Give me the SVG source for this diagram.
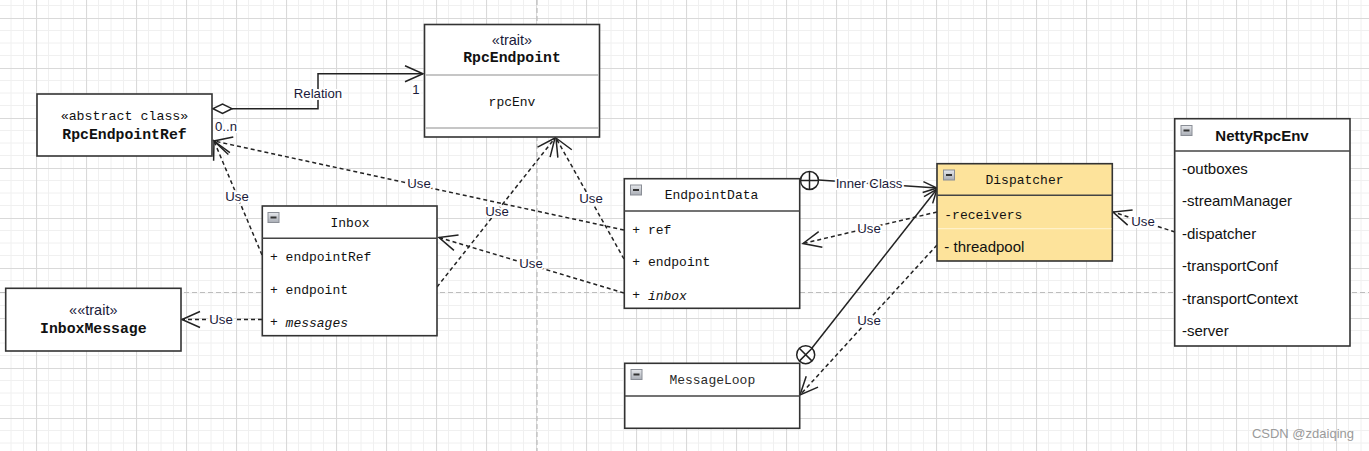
<svg xmlns="http://www.w3.org/2000/svg" width="1369" height="451" viewBox="0 0 1369 451">
<style>
.box{fill:#fff;stroke:#333;stroke-width:1.6}
.sep{stroke:#444;stroke-width:1.5}
.sepl{stroke:#b4b4b4;stroke-width:1.6}
.mono{font-family:"Liberation Mono","DejaVu Sans Mono",monospace;font-size:13px;fill:#111}
.monob{font-family:"Liberation Mono","DejaVu Sans Mono",monospace;font-size:14.8px;font-weight:bold;fill:#111}
.sans{font-family:"Liberation Sans",Arial,sans-serif;font-size:15px;fill:#111}
.stereo{font-family:"Liberation Sans",Arial,sans-serif;font-size:14.5px;fill:#1a1a3a}
.lbl{font-family:"Liberation Sans",Arial,sans-serif;font-size:13.2px;fill:#1a1a3a;paint-order:stroke;stroke:#fff;stroke-width:4px;stroke-linejoin:round}
.dash{fill:none;stroke:#222;stroke-width:1.5;stroke-dasharray:4 3}
.solid{fill:none;stroke:#222;stroke-width:1.5}
.guide{stroke:#bdbdbd;stroke-width:1.2;stroke-dasharray:5 3}
</style>
<defs>
<pattern id="grid" patternUnits="userSpaceOnUse" x="36" y="18" width="50" height="50">
<path d="M12.5,0V50M25,0V50M37.5,0V50M0,12.5H50M0,25H50M0,37.5H50" stroke="#f0f0f0" stroke-width="1" fill="none"/>
<path d="M0.5,0V50M0,0.5H50" stroke="#d9d9d9" stroke-width="1.2" fill="none"/>
</pattern>
<marker id="arr" markerUnits="userSpaceOnUse" markerWidth="40" markerHeight="40" refX="0" refY="0" orient="auto" overflow="visible">
<path d="M-18,-8 L0,0 L-18,8" fill="none" stroke="#222" stroke-width="1.5" stroke-dasharray="none"/>
</marker>
<marker id="arrs" markerUnits="userSpaceOnUse" markerWidth="40" markerHeight="40" refX="0" refY="0" orient="auto" overflow="visible">
<path d="M-14,-5.5 L0,0 L-14,5.5" fill="none" stroke="#222" stroke-width="1.5" stroke-dasharray="none"/>
</marker>
<linearGradient id="ig" x1="0" y1="0" x2="0" y2="1">
<stop offset="0" stop-color="#e6e8ec"/>
<stop offset="1" stop-color="#a9adb5"/>
</linearGradient>
<g id="icon">
<rect x="0" y="0" width="11" height="10" fill="url(#ig)" stroke="#8a8e96" stroke-width="1"/>
<path d="M2.5,5H8.5" stroke="#333" stroke-width="2"/>
</g>
</defs>

<rect width="1369" height="451" fill="#fff"/>
<rect width="1369" height="451" fill="url(#grid)"/>
<path class="guide" d="M537,0V451M0,292.5H1369"/>

<g id="connectors">
<!-- Relation -->
<path class="solid" d="M232,108.7H318V73.7H423" marker-end="url(#arr)"/>
<polygon points="213,108.7 222.5,104 232,108.7 222.5,113.4" fill="#fff" stroke="#222" stroke-width="1.5"/>
<text class="lbl" x="318" y="93.3" text-anchor="middle" dominant-baseline="central">Relation</text>
<text class="lbl" x="416" y="89.5" text-anchor="middle" dominant-baseline="central">1</text>
<text class="lbl" x="226" y="126" text-anchor="middle" dominant-baseline="central">0..n</text>

<path class="dash" d="M624,230L214,141" marker-end="url(#arr)"/>
<path class="dash" d="M262,255L214,141" marker-end="url(#arr)"/>
<path class="dash" d="M437,287L555,138" marker-end="url(#arr)"/>
<path class="dash" d="M624,259L556,138" marker-end="url(#arr)"/>
<path class="dash" d="M624,293L439,237.5" marker-end="url(#arr)"/>
<path class="dash" d="M262,319.5L182,319.5" marker-end="url(#arr)"/>
<path class="dash" d="M937,212L803,243.5" marker-end="url(#arr)"/>
<path class="dash" d="M937,245L800,395" marker-end="url(#arr)"/>
<path class="dash" d="M1175,232L1113,212" marker-end="url(#arr)"/>

<text class="lbl" x="419" y="183" text-anchor="middle" dominant-baseline="central">Use</text>
<text class="lbl" x="237" y="196" text-anchor="middle" dominant-baseline="central">Use</text>
<text class="lbl" x="497" y="211" text-anchor="middle" dominant-baseline="central">Use</text>
<text class="lbl" x="591" y="198" text-anchor="middle" dominant-baseline="central">Use</text>
<text class="lbl" x="531" y="263.5" text-anchor="middle" dominant-baseline="central">Use</text>
<text class="lbl" x="221" y="319" text-anchor="middle" dominant-baseline="central">Use</text>
<text class="lbl" x="869" y="228.5" text-anchor="middle" dominant-baseline="central">Use</text>
<text class="lbl" x="869" y="320" text-anchor="middle" dominant-baseline="central">Use</text>
<text class="lbl" x="1143" y="221" text-anchor="middle" dominant-baseline="central">Use</text>

<!-- Inner class -->
<path class="solid" d="M818.5,180L937,188" marker-end="url(#arrs)"/>
<text class="lbl" x="869" y="183.5" text-anchor="middle" dominant-baseline="central">Inner Class</text>
<circle cx="809.5" cy="180.5" r="9" fill="#fff" stroke="#222" stroke-width="1.5"/>
<path d="M800.5,180.5H818.5M809.5,171.5V189.5" stroke="#222" stroke-width="1.5"/>

<path class="solid" d="M812,348L937,189" marker-end="url(#arrs)"/>
<circle cx="805.7" cy="354.7" r="9" fill="#fff" stroke="#222" stroke-width="1.5"/>
<path d="M799.3,348.3L812.1,361.1M812.1,348.3L799.3,361.1" stroke="#222" stroke-width="1.5"/>
</g>

<g id="RpcEndpointRef">
<rect class="box" x="37" y="94" width="175" height="62" stroke-width="2"/>
<text class="mono" x="124.5" y="116.5" text-anchor="middle" dominant-baseline="central" style="font-size:13.3px">«abstract class»</text>
<text class="monob" x="124.5" y="135" text-anchor="middle" dominant-baseline="central">RpcEndpointRef</text>
</g>

<g id="RpcEndpoint">
<rect class="box" x="424.5" y="24.5" width="175" height="112.5" stroke-width="2"/>
<path class="sepl" d="M425.5,75H598.5M425.5,128H598.5"/>
<text class="stereo" x="512" y="39.5" text-anchor="middle" dominant-baseline="central">«trait»</text>
<text class="monob" x="512" y="58.3" text-anchor="middle" dominant-baseline="central">RpcEndpoint</text>
<text class="mono" x="512" y="102.5" text-anchor="middle" dominant-baseline="central">rpcEnv</text>
</g>

<g id="InboxMessage">
<rect class="box" x="5.7" y="288.3" width="175.3" height="62.7" stroke-width="2"/>
<text class="stereo" x="93.3" y="310" text-anchor="middle" dominant-baseline="central">««trait»</text>
<text class="monob" x="93.3" y="329.3" text-anchor="middle" dominant-baseline="central">InboxMessage</text>
</g>

<g id="Inbox">
<rect class="box" x="262.3" y="206" width="174.7" height="129.7"/>
<path class="sep" d="M262.3,238.3H437" stroke="#111"/>
<use href="#icon" x="268" y="212.5"/>
<text class="mono" x="350" y="223.3" text-anchor="middle" dominant-baseline="central">Inbox</text>
<text class="mono" x="270" y="257.3" dominant-baseline="central">+ endpointRef</text>
<text class="mono" x="270" y="290" dominant-baseline="central">+ endpoint</text>
<text class="mono" x="270" y="322.7" dominant-baseline="central">+ <tspan font-style="italic">messages</tspan></text>
</g>

<g id="EndpointData">
<rect class="box" x="624.3" y="178.7" width="175.4" height="129.6"/>
<path class="sep" d="M624.3,211H799.7"/>
<use href="#icon" x="630.5" y="185"/>
<text class="mono" x="711.5" y="195" text-anchor="middle" dominant-baseline="central">EndpointData</text>
<text class="mono" x="632.3" y="230" dominant-baseline="central">+ ref</text>
<text class="mono" x="632.3" y="262" dominant-baseline="central">+ endpoint</text>
<text class="mono" x="632.3" y="295.7" dominant-baseline="central">+ <tspan font-style="italic">inbox</tspan></text>
</g>

<g id="Dispatcher">
<rect x="937" y="163.7" width="175.3" height="97.3" fill="#fde39b" stroke="#333" stroke-width="1.6"/>
<path class="sep" d="M937,195.3H1112.3"/>
<path d="M938,228.7H1111.3" stroke="#fff1c9" stroke-width="1.2"/>
<use href="#icon" x="943.5" y="170"/>
<text class="mono" x="1024.5" y="180" text-anchor="middle" dominant-baseline="central">Dispatcher</text>
<text class="mono" x="944.3" y="215.7" dominant-baseline="central">-receivers</text>
<text class="sans" x="944.3" y="246" dominant-baseline="central">- threadpool</text>
</g>

<g id="NettyRpcEnv">
<rect class="box" x="1174.7" y="118.7" width="175.3" height="227.3"/>
<path class="sep" d="M1174.7,151H1350"/>
<use href="#icon" x="1181" y="125.5"/>
<text class="sans" x="1262" y="135" text-anchor="middle" dominant-baseline="central" font-weight="bold">NettyRpcEnv</text>
<text class="sans" x="1182" y="168.3" dominant-baseline="central">-outboxes</text>
<text class="sans" x="1182" y="200" dominant-baseline="central">-streamManager</text>
<text class="sans" x="1182" y="233.3" dominant-baseline="central">-dispatcher</text>
<text class="sans" x="1182" y="265" dominant-baseline="central">-transportConf</text>
<text class="sans" x="1182" y="298.3" dominant-baseline="central">-transportContext</text>
<text class="sans" x="1182" y="330" dominant-baseline="central">-server</text>
</g>

<g id="MessageLoop">
<rect class="box" x="624.7" y="363.3" width="175" height="65"/>
<path class="sep" d="M624.7,396H799.7"/>
<use href="#icon" x="631" y="369.5"/>
<text class="mono" x="712.3" y="380" text-anchor="middle" dominant-baseline="central" style="fill:#2a2a2a">MessageLoop</text>
</g>

<text x="1354" y="433.5" text-anchor="end" dominant-baseline="central" font-family="'Liberation Sans',Arial,sans-serif" font-size="13" fill="#9a9a9a">CSDN @zdaiqing</text>
</svg>
